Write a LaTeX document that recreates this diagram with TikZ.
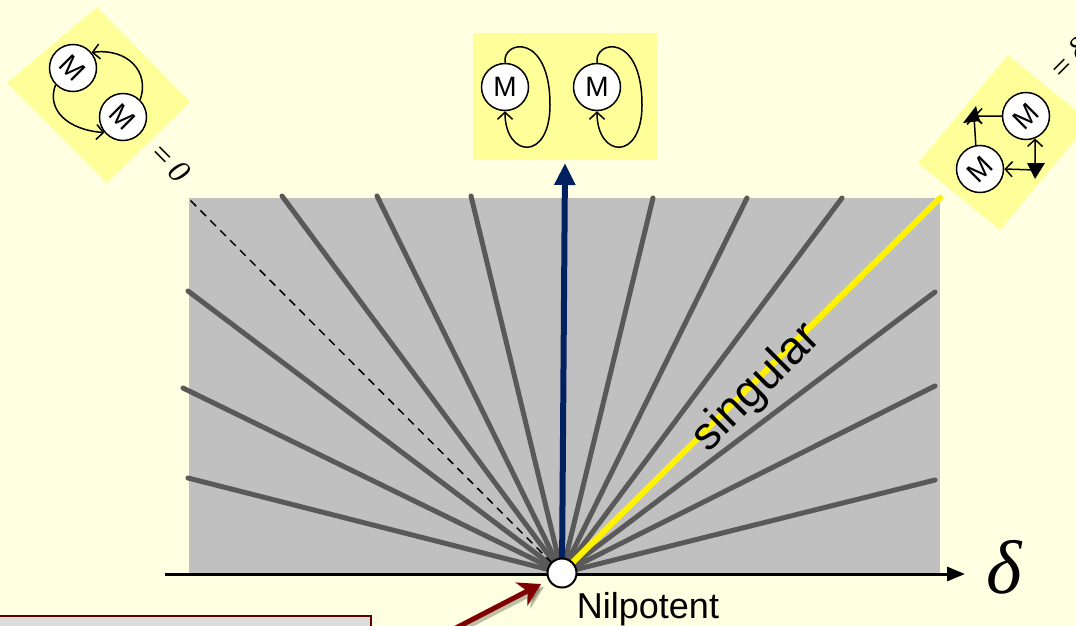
\documentclass[tikz,border=0pt]{standalone}
\usepackage{fontspec}
\setmainfont{Liberation Sans}
\newfontfamily\seriffam{Liberation Serif}
\usetikzlibrary{arrows.meta}
\definecolor{bgc}{HTML}{FFFFE1}
\definecolor{rectgray}{HTML}{C0C0C0}
\definecolor{raygray}{HTML}{595959}
\definecolor{boxyellow}{HTML}{FFFF99}
\definecolor{navy}{HTML}{002060}
\definecolor{maroon}{HTML}{7F0000}
\definecolor{notegray}{HTML}{DDDDDD}
\definecolor{noteborder}{HTML}{5C0000}
\begin{document}
\begin{tikzpicture}[x=1pt,y=-1pt,
  ray/.style={line width=5pt, draw=raygray, line cap=round},
  mnode/.style={circle, draw, line width=1.5pt, fill=white, minimum size=47pt, inner sep=0pt, font=\fontsize{28}{28}\selectfont},
  looparrow/.style={line width=1.5pt, -{Straight Barb[length=7pt,width=15pt]}},
  tri/.style={fill=black}
]
\useasboundingbox (0,0) rectangle (1076,626);
\clip (0,0) rectangle (1076,626);
\fill[bgc] (0,0) rectangle (1076,626);

% gray region
\fill[rectgray] (189,198) rectangle (940,573);
\coordinate (O) at (562,573);

% rays
\foreach \p in {(282,196),(377,196),(471,196),(653,198),(747,198),(842,198),
                (188,291),(183,388),(188,478),(935,292),(935,386),(935,480)}
  \draw[ray] (O) -- \p;
\coordinate (dl) at (188,198);
\draw[line width=1.5pt, dash pattern=on 8pt off 6pt] (O) -- (dl);
\coordinate (yl) at (940,198);
\draw[line width=6pt, yellow, line cap=round] (O) -- (yl);
\coordinate (bt) at (565,163);
\draw[line width=6pt, navy, -{Triangle[length=22pt,width=20pt]}] (O) -- (bt);

% axis
\coordinate (ax0) at (165,574);
\coordinate (ax1) at (965,574);
\draw[line width=3pt, -{Triangle[length=18pt,width=14pt]}] (ax0) -- (ax1);
\node[font=\seriffam\itshape\fontsize{76}{76}\selectfont] (delta) at (1004,567) {δ};

% origin
\node[circle, draw, line width=2pt, fill=white, minimum size=29pt, inner sep=0pt] (orig) at (O) {};
\node[anchor=base, font=\fontsize{36}{36}\selectfont] (nil) at (648,618) {Nilpotent};

% singular
\node[rotate=44.8, font=\fontsize{46}{46}\selectfont] (sg) at (757,388) {singular};

% note box and red arrow
\draw[fill=notegray, draw=noteborder, line width=2pt] (-5,616) rectangle (371,650);
\coordinate (ra0) at (452,630);
\coordinate (ra1) at (541,584);
\draw[line width=5pt, black, opacity=0.25, -{Stealth[length=22pt,width=26pt,inset=7pt]}] ([shift={(3,3)}]ra0) -- ([shift={(3,3)}]ra1);
\draw[line width=5pt, maroon, -{Stealth[length=22pt,width=26pt,inset=7pt]}] (ra0) -- (ra1);

% top center box
\fill[boxyellow] (473,33) rectangle (657,160);
\node[mnode] (m1) at (505,87) {M};
\node[mnode] (m2) at (597,87) {M};
\draw[looparrow] (m1.north) .. controls (502,40) and (550,32) .. (550,105) .. controls (550,162) and (505,158) .. (m1.south);
\draw[looparrow] (m2.north) .. controls (594,40) and (642,32) .. (642,105) .. controls (642,162) and (597,158) .. (m2.south);

% top-left diamond
\fill[boxyellow] (7,83) -- (97,7) -- (190,102) -- (107,183) -- cycle;
\node[mnode, rotate=-45] (c1) at (73,68) {M};
\node[mnode, rotate=-45] (c2) at (123,117) {M};
\draw[looparrow] (c2.90) .. controls (150,72) and (128,48) .. (c1.85);
\draw[looparrow] (c1.269) .. controls (46,110) and (68,130) .. (c2.265);
\node[rotate=-45, font=\seriffam\itshape\fontsize{32}{32}\selectfont] (z0) at (170,162) {=\,0};

% top-right diamond
\fill[boxyellow] (918,163) -- (1008,55) -- (1090,122) -- (1000,230) -- cycle;
\node[mnode, rotate=45] (a) at (1026,116) {M};
\node[mnode, rotate=45] (b) at (980,169) {M};
\coordinate (k1) at (974,116);
\coordinate (k2) at (1035,170);
\fill[tri] (963,123) -- (976,106) -- (980,121) -- cycle;
\fill[tri] (1027,163) -- (1045,163) -- (1035,179) -- cycle;
\draw[looparrow] (a.135) -- (k1);
\draw[looparrow] (b.55) -- (k1);
\draw[looparrow] (k2) -- (b.-45);
\draw[looparrow] (k2) -- (a.-113);
\node[rotate=45, font=\seriffam\itshape\fontsize{32}{32}\selectfont] (zd) at (1068,60) {=\,δ};
\end{tikzpicture}
\end{document}
